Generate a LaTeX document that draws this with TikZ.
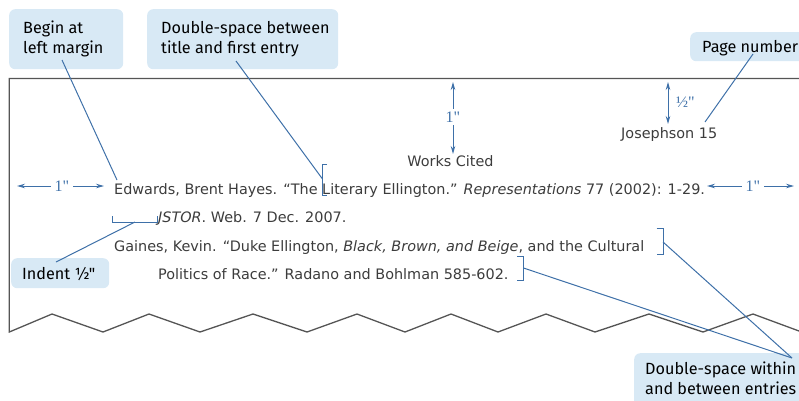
\documentclass[tikz,border=0pt]{standalone}
\usepackage{fontspec}
\setmainfont{DejaVu Sans}
\newfontfamily\calloutfont{Fira Sans}
\newfontfamily\dimfont{Liberation Serif}
\usetikzlibrary{arrows.meta,calc}
\definecolor{leadblue}{RGB}{62,112,168}
\definecolor{boxfill}{RGB}{216,233,245}
\definecolor{pagegray}{RGB}{85,85,85}
\definecolor{bodygray}{RGB}{60,60,60}
\tikzset{
  callout/.style={fill=boxfill, rounded corners=6pt, inner sep=0pt, anchor=north west},
  callouttext/.style={font=\calloutfont\fontsize{16.2}{20}\selectfont, text=black, align=left, inner sep=0pt, anchor=north west},
  body/.style={font=\fontsize{14.4}{16}\selectfont, text=bodygray, inner sep=0pt, anchor=base west},
  leader/.style={draw=leadblue, line width=1pt},
  bracketline/.style={draw=leadblue, line width=1pt},
  dimarrow/.style={draw=leadblue, line width=1pt, -{Stealth[length=8pt,width=4.5pt]}},
  dimlabel/.style={font=\dimfont\fontsize{16}{16}\selectfont, text=leadblue, inner sep=0pt},
  pageline/.style={draw=pagegray, line width=1.3pt}
}
\begin{document}
\begin{tikzpicture}[x=1pt,y=-1pt]
\useasboundingbox (0,0) rectangle (799,400);
\clip (0,0) rectangle (799,400);
% page outline
\draw[pageline] (799,78.5) -- (9.3,78.5) -- (9.3,332)
  -- (52,314) -- (103,332) -- (149,314) -- (200,332) -- (253,314) -- (307,332)
  -- (357,314) -- (405,332) -- (451,314) -- (498,332) -- (546,314) -- (595,332)
  -- (649,314) -- (703,332) -- (753,314) -- (799,331);
% callout boxes
\node[callout, minimum width=114pt, minimum height=60pt] (cb1) at (9,9) {};
\node[callouttext] (ct1) at (23,21) {Begin at\\left margin};
\node[callout, minimum width=191pt, minimum height=60pt] (cb2) at (147,9) {};
\node[callouttext] (ct2) at (161,21) {Double-space between\\title and first entry};
\node[callout, minimum width=130pt, minimum height=29pt] (cb3) at (690,32) {};
\node[callouttext] (ct3) at (702,40) {Page number};
\node[callout, minimum width=98pt, minimum height=30pt] (cb4) at (11,258) {};
\node[callouttext] (ct4) at (22,267) {Indent ½"};
\node[callout, minimum width=180pt, minimum height=70pt] (cb5) at (634,353) {};
\node[callouttext] (ct5) at (645,362) {Double-space within\\and between entries};
% body text
\node[body] (jos) at (621,138) {Josephson 15};
\node[body, anchor=base] (wc) at (450.5,166) {Works Cited};
\node[body] (e1) at (114,194) {Edwards, Brent Hayes. “The Literary Ellington.” \textit{Representations} 77 (2002): 1-29.};
\node[body] (e1b) at (158,222) {\textit{JSTOR}. Web. 7 Dec. 2007.};
\node[body] (e2) at (114,251) {Gaines, Kevin. “Duke Ellington, \textit{Black, Brown, and Beige}, and the Cultural};
\node[body] (e2b) at (158,279) {Politics of Race.” Radano and Bohlman 585-602.};
% brackets
\coordinate (brA) at (322.5,179);
\draw[bracketline] (327,164) -- (322.5,164) -- (322.5,195) -- (327,195);
\coordinate (brI) at (135,222);
\draw[bracketline] (112,216) -- (112,222) -- (157,222) -- (157,216);
\coordinate (brB) at (663,242);
\draw[bracketline] (656.5,228) -- (663,228) -- (663,254) -- (656.5,254);
\coordinate (brC) at (523.5,268);
\draw[bracketline] (517,256) -- (523.5,256) -- (523.5,280) -- (517,280);
% leader start points
\coordinate (l1) at (62,60);
\coordinate (l2) at (236,61);
\coordinate (l3) at (753,54);
\coordinate (l3e) at (705,122);
\coordinate (l4) at (56,262);
\coordinate (l5) at (792,358);
\draw[leader] (l1) -- (117,180);
\draw[leader] (l2) -- (brA);
\draw[leader] (l3) -- (l3e);
\draw[leader] (l4) -- (brI);
\draw[leader] (l5) -- (brB);
\draw[leader] (l5) -- (brC);
% dimension marks
\node[dimlabel] (d1) at (62,186) {1"};
\draw[dimarrow] (d1.west) ++(-4,0) coordinate (d1a) (d1a) -- (17,186);
\draw[dimarrow] (d1.east) ++(4,0) coordinate (d1b) (d1b) -- (104,186);
\node[dimlabel] (d2) at (753,186) {1"};
\draw[dimarrow] (d2.west) ++(-4,0) coordinate (d2a) (d2a) -- (707,186);
\draw[dimarrow] (d2.east) ++(4,0) coordinate (d2b) (d2b) -- (794,186);
\node[dimlabel] (d3) at (453,117) {1"};
\draw[dimarrow] (d3.north) ++(0,-3) coordinate (d3a) (d3a) -- (453,82);
\draw[dimarrow] (d3.south) ++(0,3) coordinate (d3b) (d3b) -- (453,154);
\node[dimlabel, anchor=west] (d4) at (676,102) {½"};
\coordinate (d4t) at (668,82);
\coordinate (d4b) at (668,124);
\draw[dimarrow, {Stealth[length=8pt,width=4.5pt]}-{Stealth[length=8pt,width=4.5pt]}] (d4t) -- (d4b);
\end{tikzpicture}
\end{document}
